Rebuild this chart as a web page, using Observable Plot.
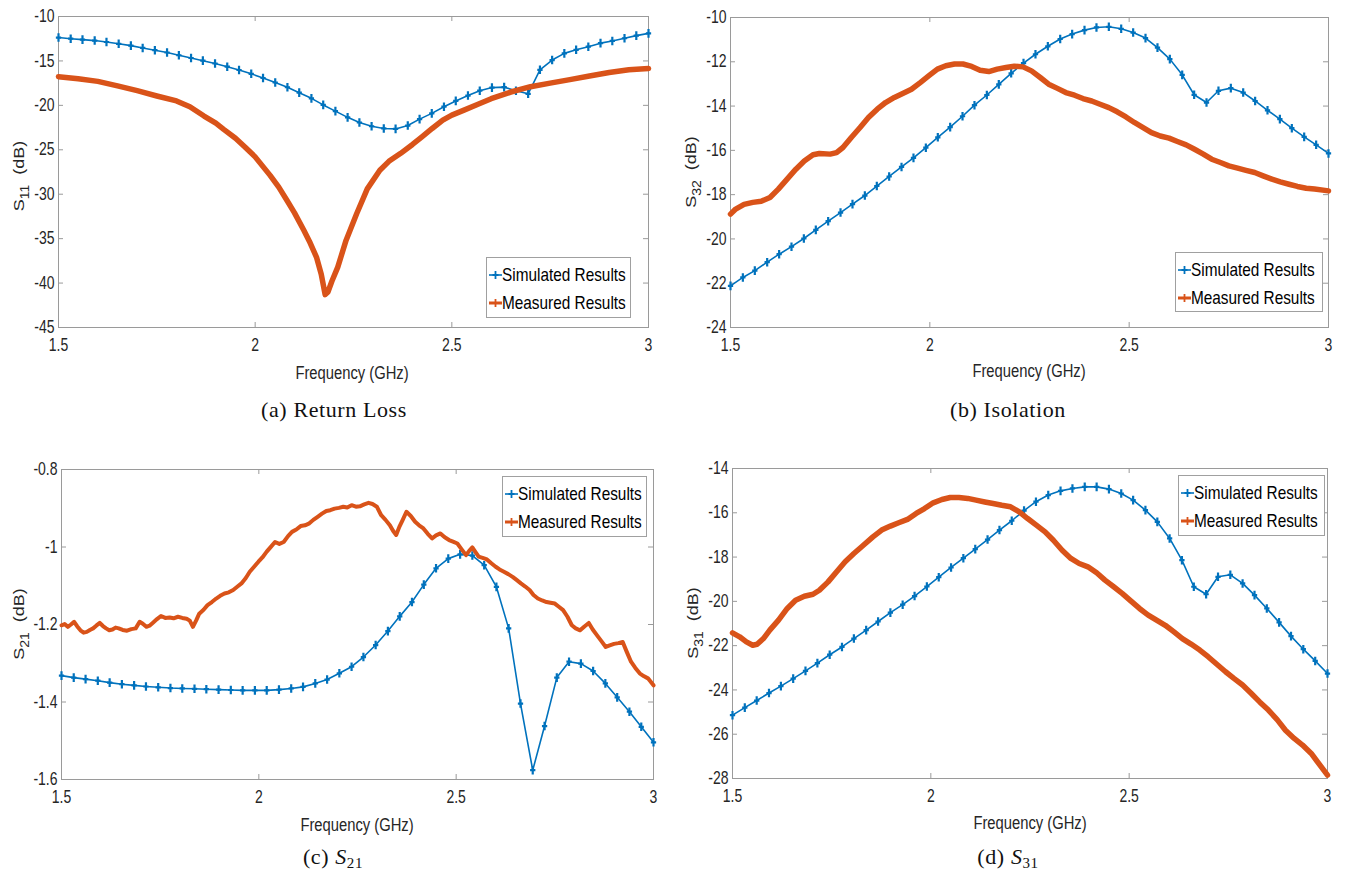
<!DOCTYPE html>
<html><head><meta charset="utf-8">
<script src="https://cdn.jsdelivr.net/npm/d3@7"></script>
<script src="https://cdn.jsdelivr.net/npm/@observablehq/plot@0.6"></script>
<style>
body{margin:0;background:#fff;}
#root{position:relative;width:1345px;height:878px;overflow:hidden;background:#fff;}
.panel{position:absolute;}
.xlab,.ylab,.cap,.leg{position:absolute;white-space:nowrap;}
.sans{font-family:"Liberation Sans",Arial,sans-serif;}
.xlab{font-size:18px;color:#262626;transform:translate(-50%,-50%) scaleX(0.82);}
.ylab{font-size:18px;color:#262626;transform:translate(-50%,-50%) scaleX(0.85) rotate(-90deg);}
.ylab sub{font-size:14px;vertical-align:-5px;margin-right:10px;}
.cap{font-family:"Liberation Serif","Times New Roman",serif;font-size:22px;letter-spacing:0.6px;color:#111;transform:translate(-50%,-50%);}
.cap sub{font-size:15px;vertical-align:-4px;}
.leg{border:1px solid #a0a0a0;background:#fff;box-sizing:border-box;font-size:18.5px;color:#000;}
.row{position:absolute;left:0;height:22px;line-height:22px;}
.row svg{position:absolute;left:2px;top:5px;}
.row span{position:absolute;left:15px;top:0;transform:scaleX(0.83);transform-origin:0 50%;}
</style>
</head><body><div id="root"></div>
<script>
// ---- shared axes ----
const xTicks = [1.5, 2, 2.5, 3];
const seriesNames = ["Simulated Results", "Measured Results"];
const simFreqs = [1.5,1.531,1.561,1.592,1.622,1.653,1.684,1.714,1.745,1.776,1.806,1.837,1.867,1.898,1.929,1.959,1.99,2.02,2.051,2.082,2.112,2.143,2.173,2.204,2.235,2.265,2.296,2.327,2.357,2.388,2.418,2.449,2.48,2.51,2.541,2.571,2.602,2.633,2.663,2.694,2.724,2.755,2.786,2.816,2.847,2.878,2.908,2.939,2.969,3.0];

// ---- (a) S11 ----
const s11Ticks = [-10,-15,-20,-25,-30,-35,-40,-45];
const s11Sim = [-12.37,-12.5,-12.6,-12.71,-12.87,-13.07,-13.28,-13.54,-13.79,-14.05,-14.36,-14.67,-14.97,-15.29,-15.65,-16.02,-16.45,-16.92,-17.43,-17.96,-18.57,-19.21,-19.95,-20.65,-21.35,-21.93,-22.35,-22.6,-22.65,-22.27,-21.55,-20.9,-20.15,-19.5,-18.9,-18.35,-18.0,-17.95,-18.35,-18.7,-16.0,-14.9,-14.15,-13.75,-13.4,-13.0,-12.75,-12.45,-12.15,-11.9];
const s11MeasFreq = [1.5,1.55,1.6,1.65,1.7,1.75,1.8,1.834,1.87,1.9,1.92,1.95,1.974,2.0,2.038,2.06,2.081,2.1,2.124,2.14,2.156,2.168,2.178,2.185,2.195,2.21,2.231,2.258,2.285,2.317,2.34,2.37,2.4,2.424,2.45,2.477,2.5,2.531,2.565,2.6,2.65,2.7,2.75,2.8,2.85,2.9,2.95,3.0];
const s11Meas = [-16.77,-17.0,-17.3,-17.8,-18.35,-18.95,-19.5,-20.16,-21.2,-22.0,-22.7,-23.7,-24.68,-25.8,-27.88,-29.2,-30.7,-32.1,-34.09,-35.5,-37.1,-39.0,-41.3,-41.0,-39.8,-38.2,-35.2,-32.2,-29.4,-27.3,-26.3,-25.4,-24.4,-23.55,-22.6,-21.67,-21.1,-20.54,-19.9,-19.25,-18.5,-17.9,-17.5,-17.1,-16.7,-16.3,-16.0,-15.85];

// ---- (b) S32 ----
const s32Ticks = [-10,-12,-14,-16,-18,-20,-22,-24];
const s32Sim = [-22.12,-21.74,-21.43,-21.05,-20.69,-20.35,-19.98,-19.59,-19.2,-18.81,-18.43,-18.04,-17.61,-17.18,-16.75,-16.34,-15.88,-15.41,-14.95,-14.46,-13.96,-13.5,-13.02,-12.52,-12.06,-11.66,-11.3,-10.97,-10.75,-10.57,-10.45,-10.42,-10.51,-10.68,-10.93,-11.36,-11.88,-12.59,-13.49,-13.84,-13.31,-13.19,-13.39,-13.77,-14.19,-14.59,-15.0,-15.39,-15.75,-16.14];
const s32MeasFreq = [1.5,1.513,1.534,1.556,1.577,1.599,1.62,1.642,1.664,1.685,1.707,1.723,1.75,1.766,1.782,1.803,1.825,1.846,1.868,1.889,1.911,1.932,1.954,1.976,1.997,2.019,2.04,2.062,2.083,2.105,2.126,2.148,2.169,2.191,2.212,2.234,2.255,2.277,2.298,2.32,2.341,2.363,2.384,2.406,2.427,2.449,2.47,2.492,2.513,2.535,2.556,2.578,2.6,2.621,2.643,2.664,2.686,2.707,2.729,2.75,2.772,2.793,2.815,2.836,2.858,2.879,2.901,2.922,2.944,2.965,3.0];
const s32Meas = [-18.88,-18.65,-18.44,-18.35,-18.3,-18.13,-17.75,-17.3,-16.85,-16.48,-16.2,-16.14,-16.17,-16.1,-15.87,-15.42,-14.97,-14.52,-14.14,-13.84,-13.61,-13.43,-13.24,-12.94,-12.64,-12.33,-12.18,-12.1,-12.1,-12.21,-12.38,-12.44,-12.33,-12.26,-12.2,-12.23,-12.41,-12.71,-13.01,-13.2,-13.39,-13.51,-13.66,-13.77,-13.92,-14.07,-14.26,-14.49,-14.74,-14.97,-15.2,-15.35,-15.45,-15.6,-15.75,-15.95,-16.17,-16.4,-16.55,-16.7,-16.8,-16.9,-17.0,-17.15,-17.3,-17.42,-17.53,-17.63,-17.71,-17.75,-17.83];

// ---- (c) S21 ----
const s21Ticks = [-0.8,-1,-1.2,-1.4,-1.6];
const s21Sim = [-1.332,-1.337,-1.341,-1.345,-1.35,-1.354,-1.357,-1.36,-1.362,-1.364,-1.365,-1.366,-1.367,-1.368,-1.369,-1.37,-1.37,-1.37,-1.368,-1.365,-1.361,-1.352,-1.342,-1.326,-1.309,-1.284,-1.253,-1.217,-1.179,-1.142,-1.097,-1.055,-1.03,-1.019,-1.022,-1.047,-1.103,-1.21,-1.404,-1.576,-1.462,-1.337,-1.296,-1.301,-1.32,-1.352,-1.388,-1.425,-1.464,-1.504];
const s21MeasFreq = [1.5,1.508,1.516,1.524,1.532,1.54,1.548,1.556,1.564,1.572,1.58,1.588,1.597,1.605,1.613,1.621,1.629,1.637,1.645,1.655,1.666,1.677,1.688,1.698,1.706,1.715,1.723,1.731,1.742,1.752,1.763,1.774,1.784,1.795,1.806,1.817,1.825,1.833,1.841,1.849,1.86,1.87,1.881,1.892,1.902,1.913,1.924,1.935,1.946,1.956,1.967,1.977,1.988,1.999,2.009,2.02,2.031,2.041,2.052,2.063,2.074,2.084,2.095,2.106,2.117,2.128,2.138,2.149,2.16,2.171,2.181,2.192,2.203,2.214,2.224,2.235,2.246,2.256,2.267,2.278,2.288,2.299,2.31,2.321,2.332,2.34,2.348,2.356,2.364,2.374,2.385,2.396,2.406,2.417,2.428,2.439,2.449,2.46,2.471,2.482,2.492,2.503,2.514,2.525,2.533,2.541,2.549,2.557,2.567,2.578,2.589,2.6,2.61,2.621,2.632,2.643,2.653,2.664,2.675,2.686,2.696,2.707,2.718,2.729,2.739,2.75,2.761,2.771,2.782,2.793,2.803,2.814,2.825,2.836,2.846,2.857,2.868,2.879,2.889,2.9,2.911,2.922,2.932,2.943,2.954,2.965,2.975,2.986,3.0];
const s21Meas = [-1.202,-1.199,-1.206,-1.2,-1.193,-1.205,-1.215,-1.221,-1.219,-1.214,-1.21,-1.203,-1.196,-1.204,-1.21,-1.215,-1.213,-1.208,-1.21,-1.214,-1.216,-1.212,-1.21,-1.193,-1.198,-1.206,-1.203,-1.196,-1.186,-1.178,-1.183,-1.182,-1.184,-1.18,-1.183,-1.185,-1.19,-1.206,-1.19,-1.172,-1.162,-1.15,-1.142,-1.133,-1.126,-1.12,-1.117,-1.111,-1.102,-1.094,-1.08,-1.064,-1.051,-1.038,-1.027,-1.012,-0.999,-0.987,-0.992,-0.987,-0.972,-0.961,-0.955,-0.946,-0.944,-0.939,-0.93,-0.922,-0.914,-0.907,-0.905,-0.901,-0.899,-0.896,-0.898,-0.892,-0.896,-0.895,-0.89,-0.886,-0.889,-0.896,-0.918,-0.93,-0.944,-0.958,-0.969,-0.948,-0.931,-0.909,-0.92,-0.935,-0.944,-0.952,-0.966,-0.978,-0.97,-0.965,-0.975,-0.982,-0.986,-0.991,-1.006,-1.021,-1.01,-1.001,-1.013,-1.025,-1.028,-1.032,-1.042,-1.051,-1.058,-1.064,-1.07,-1.077,-1.085,-1.094,-1.102,-1.111,-1.124,-1.133,-1.138,-1.142,-1.144,-1.146,-1.155,-1.163,-1.18,-1.202,-1.21,-1.215,-1.205,-1.196,-1.213,-1.228,-1.243,-1.258,-1.254,-1.25,-1.248,-1.245,-1.27,-1.296,-1.312,-1.326,-1.333,-1.339,-1.357];

// ---- (d) S31 ----
const s31Ticks = [-14,-16,-18,-20,-22,-24,-26,-28];
const s31Sim = [-25.14,-24.8,-24.48,-24.14,-23.83,-23.49,-23.14,-22.79,-22.41,-22.06,-21.68,-21.3,-20.91,-20.51,-20.15,-19.76,-19.33,-18.91,-18.47,-18.05,-17.64,-17.21,-16.78,-16.36,-15.9,-15.5,-15.2,-15.01,-14.9,-14.83,-14.83,-14.93,-15.13,-15.43,-15.88,-16.41,-17.16,-18.14,-19.34,-19.68,-18.89,-18.8,-19.19,-19.72,-20.32,-20.95,-21.57,-22.16,-22.69,-23.26];
const s31MeasFreq = [1.5,1.518,1.535,1.551,1.562,1.578,1.594,1.616,1.638,1.659,1.681,1.703,1.719,1.741,1.762,1.784,1.806,1.827,1.854,1.876,1.898,1.919,1.941,1.963,1.984,2.006,2.028,2.049,2.071,2.093,2.114,2.136,2.157,2.179,2.201,2.223,2.244,2.266,2.288,2.309,2.331,2.353,2.374,2.396,2.418,2.439,2.461,2.483,2.504,2.526,2.548,2.569,2.591,2.613,2.634,2.656,2.678,2.699,2.721,2.743,2.764,2.786,2.808,2.829,2.851,2.873,2.894,2.916,2.937,2.959,2.981,3.0];
const s31Meas = [-21.42,-21.6,-21.83,-21.98,-21.94,-21.68,-21.3,-20.85,-20.32,-19.95,-19.77,-19.68,-19.5,-19.12,-18.67,-18.21,-17.84,-17.51,-17.09,-16.78,-16.6,-16.45,-16.3,-16.03,-15.81,-15.55,-15.4,-15.31,-15.31,-15.35,-15.43,-15.51,-15.58,-15.66,-15.73,-15.96,-16.26,-16.56,-16.86,-17.24,-17.69,-18.06,-18.29,-18.44,-18.71,-19.04,-19.34,-19.65,-19.98,-20.32,-20.62,-20.85,-21.08,-21.38,-21.68,-21.93,-22.2,-22.5,-22.84,-23.18,-23.48,-23.78,-24.16,-24.54,-24.91,-25.34,-25.82,-26.19,-26.49,-26.87,-27.4,-27.85];

// ---- styling / layout ----
const BLUE = "#0072BD", ORANGE = "#D95319", FRAME = "#9a9a9a", TXT = "#262626";
const SANS = '"Liberation Sans",Arial,sans-serif';
const TICK_SQUEEZE = 0.8;

// a "+" marker with a tall vertical arm, as the squeezed export shows it
const tallPlus = {
  draw(ctx, size) {
    const r = Math.sqrt(size / Math.PI);
    ctx.moveTo(0, -r * 1.3); ctx.lineTo(0, r * 1.3);
    ctx.moveTo(-r * 0.8, 0); ctx.lineTo(r * 0.8, 0);
  }
};

const panels = [
  {left:0, top:0, width:670, height:362, ml:58, mt:16, mr:22, mb:35, ticks:s11Ticks, sim:s11Sim, mf:s11MeasFreq, mv:s11Meas, mw:5.5,
   sub:"11", xl:[352,373], yl:[21,176], leg:[486,257,145,61], cap:"(a) Return Loss", cp:[334,410]},
  {left:672, top:0, width:673, height:362, ml:58, mt:17, mr:17, mb:35, ticks:s32Ticks, sim:s32Sim, mf:s32MeasFreq, mv:s32Meas, mw:5.5,
   sub:"32", xl:[1029,371], yl:[693,172], leg:[1175,252,148,60], cap:"(b) Isolation", cp:[1008,410]},
  {left:0, top:440, width:672, height:372, ml:61, mt:29, mr:19, mb:33, ticks:s21Ticks, sim:s21Sim, mf:s21MeasFreq, mv:s21Meas, mw:4,
   sub:"21", xl:[357,825], yl:[21,624], leg:[502,476,145,61], cap:'(c) <i>S</i><sub>21</sub>', cp:[333,858]},
  {left:672, top:440, width:673, height:372, ml:60, mt:28, mr:18, mb:34, ticks:s31Ticks, sim:s31Sim, mf:s31MeasFreq, mv:s31Meas, mw:5.5,
   sub:"31", xl:[1030,823], yl:[695,623], leg:[1178,475,147,61], cap:'(d) <i>S</i><sub>31</sub>', cp:[1008,858]}
];

const root = document.getElementById("root");

function addDiv(cls, html, x, y) {
  const d = document.createElement("div");
  d.className = cls;
  d.innerHTML = html;
  d.style.left = x + "px";
  d.style.top = y + "px";
  root.appendChild(d);
  return d;
}

// narrow the tick labels horizontally around their own anchor
function squeezeTickLabels(svg, s) {
  svg.querySelectorAll('g[aria-label$="tick label"] text').forEach(t => {
    const x = +t.getAttribute("x") || 0, y = +t.getAttribute("y") || 0;
    const tr = t.getAttribute("transform") || "";
    t.setAttribute("transform", `${tr} translate(${x},${y}) scale(${s},1) translate(${-x},${-y})`);
  });
}

for (const p of panels) {
  const sim = simFreqs.map((f, i) => ({f, v: p.sim[i]}));
  const meas = p.mf.map((f, i) => ({f, v: p.mv[i]}));
  const pw = p.width - p.ml - p.mr, ph = p.height - p.mt - p.mb;
  const yDom = [d3.min(p.ticks), d3.max(p.ticks)];
  const chart = Plot.plot({
    width: p.width, height: p.height,
    marginLeft: p.ml, marginRight: p.mr, marginTop: p.mt, marginBottom: p.mb,
    style: {fontFamily: SANS, fontSize: "17.5px", color: TXT, background: "#fff", overflow: "visible"},
    x: {domain: [1.5, 3], ticks: xTicks, tickFormat: d => String(d), tickSize: 0, tickPadding: 11, label: null},
    y: {domain: yDom, ticks: p.ticks, tickFormat: d => String(d), tickSize: 0, tickPadding: 4, label: null},
    marks: [
      Plot.frame({stroke: FRAME}),
      Plot.ruleX(xTicks, {stroke: FRAME, insetTop: ph - 5}),
      Plot.ruleX(xTicks, {stroke: FRAME, insetBottom: ph - 5}),
      Plot.ruleY(p.ticks, {stroke: FRAME, insetRight: pw - 5}),
      Plot.ruleY(p.ticks, {stroke: FRAME, insetLeft: pw - 5}),
      Plot.line(sim, {x: "f", y: "v", stroke: BLUE, strokeWidth: 1.6}),
      Plot.dot(sim, {x: "f", y: "v", symbol: tallPlus, r: 3.3, stroke: BLUE, fill: "none", strokeWidth: 2.2}),
      Plot.line(meas, {x: "f", y: "v", stroke: ORANGE, strokeWidth: p.mw, strokeLinejoin: "round", strokeLinecap: "round"})
    ]
  });
  squeezeTickLabels(chart, TICK_SQUEEZE);
  const wrap = document.createElement("div");
  wrap.className = "panel";
  wrap.style.left = p.left + "px";
  wrap.style.top = p.top + "px";
  wrap.appendChild(chart);
  root.appendChild(wrap);

  addDiv("xlab sans", "Frequency (GHz)", p.xl[0], p.xl[1]);
  addDiv("ylab sans", `S<sub>${p.sub}</sub>(dB)`, p.yl[0], p.yl[1]);
  addDiv("cap", p.cap, p.cp[0], p.cp[1]);

  const leg = addDiv("leg sans", "", p.leg[0], p.leg[1]);
  leg.style.width = p.leg[2] + "px";
  leg.style.height = p.leg[3] + "px";
  [BLUE, ORANGE].forEach((c, k) => {
    const row = document.createElement("div");
    row.className = "row";
    row.style.top = (k === 0 ? 6 : 34) + "px";
    row.innerHTML = `<svg width="14" height="12"><line x1="0" y1="6" x2="13" y2="6" stroke="${c}" stroke-width="${k === 0 ? 1.6 : 3}"/><path d="M6.5 2V10M3.5 6H9.5" stroke="${c}" stroke-width="1.8"/></svg><span>${seriesNames[k]}</span>`;
    leg.appendChild(row);
  });
}
</script>
</body></html>
